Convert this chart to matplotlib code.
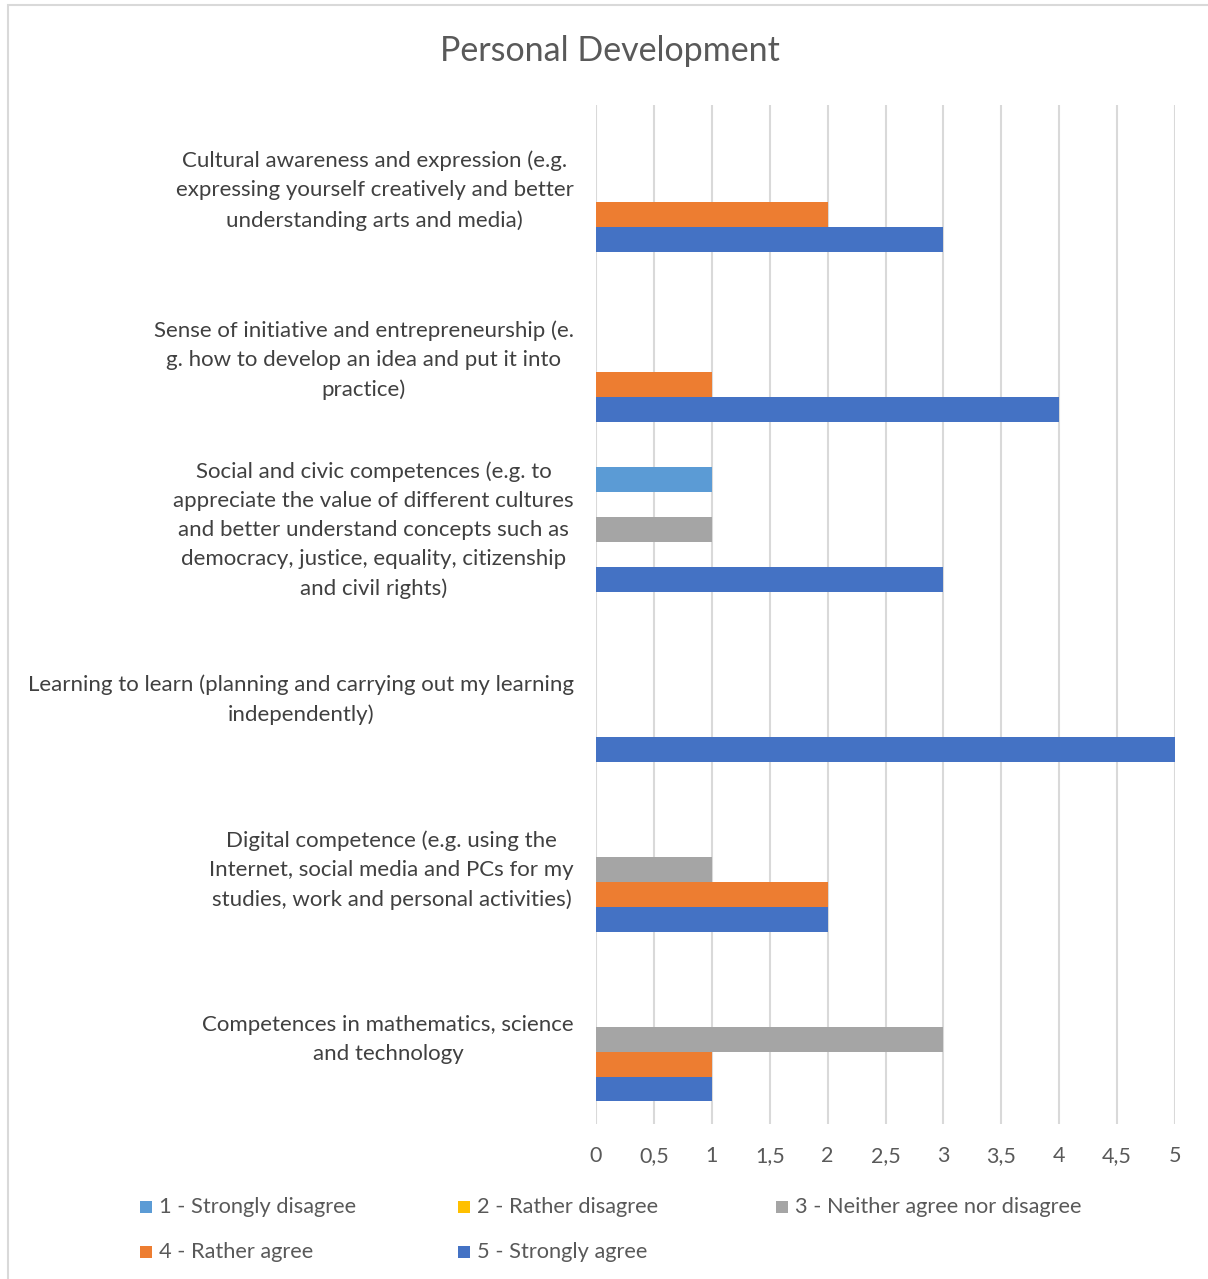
import numpy as np
import matplotlib.pyplot as plt
import matplotlib.transforms as mtransforms
from matplotlib.patches import Rectangle

plt.rcParams['font.family'] = ['Lato', 'DejaVu Sans']

# categories bottom -> top
categories = [
    "Competences in mathematics, science\nand technology",
    "Digital competence (e.g. using the\nInternet, social media and PCs for my\nstudies, work and personal activities)",
    "Learning to learn (planning and carrying out my learning\nindependently)",
    "Social and civic competences (e.g. to\nappreciate the value of different cultures\nand better understand concepts such as\ndemocracy, justice, equality, citizenship\nand civil rights)",
    "Sense of initiative and entrepreneurship (e.\ng. how to develop an idea and put it into\npractice)",
    "Cultural awareness and expression (e.g.\nexpressing yourself creatively and better\nunderstanding arts and media)",
]
series_names = ["1 - Strongly disagree", "2 - Rather disagree",
                "3 - Neither agree nor disagree", "4 - Rather agree",
                "5 - Strongly agree"]
s1 = [0, 0, 0, 1, 0, 0]
s2 = [0, 0, 0, 0, 0, 0]
s3 = [3, 1, 0, 1, 0, 0]
s4 = [1, 2, 0, 0, 1, 2]
s5 = [1, 2, 5, 3, 4, 3]
values = [s1, s2, s3, s4, s5]
colors = ["#5B9BD5", "#FFC000", "#A5A5A5", "#ED7D31", "#4472C4"]
xticks = np.arange(0, 5.01, 0.5)
xticklabels = ["0", "0,5", "1", "1,5", "2", "2,5", "3", "3,5", "4", "4,5", "5"]

W, H = 1208, 1279
fig = plt.figure(figsize=(W/100, H/100), dpi=100)
ax = fig.add_axes([596/W, 1 - 1124/H, (1175-596)/W, (1124-105)/H])

y = np.arange(len(categories))
h = 0.147
for k, vals in enumerate(values):
    ax.barh(y + (2 - k) * h, vals, height=h, color=colors[k], label=series_names[k], zorder=3)

ax.set_xlim(0, 5)
ax.set_ylim(-0.5, len(categories) - 0.5)
ax.set_xticks(xticks)
ax.set_xticklabels(xticklabels, fontsize=15.5, color="#595959")
ax.set_yticks(y)
ax.set_yticklabels(categories, fontsize=16, color="#404040", multialignment="center", linespacing=1.57)
ax.tick_params(axis="both", length=0)
ax.tick_params(axis="x", pad=16)
ax.tick_params(axis="y", pad=16)
# nudge category labels up a little
shift = mtransforms.ScaledTranslation(0, 6/100, fig.dpi_scale_trans)
for lab in ax.get_yticklabels():
    lab.set_transform(lab.get_transform() + shift)
ax.grid(axis="x", color="#D9D9D9", linewidth=1.5, zorder=0)
for s in ax.spines.values():
    s.set_visible(False)

fig.text(610/W, 1 - 51/H, "Personal Development", ha="center", va="center",
         fontsize=24.5, color="#595959")

# legend, laid out like Excel: fixed column slots, row by row
leg_x = [140, 458, 776]
leg_y = [1207, 1252]
for i, name in enumerate(series_names):
    cx = leg_x[i % 3]
    cy = leg_y[i // 3]
    fig.patches.append(Rectangle((cx/W, 1 - (cy + 6)/H), 12/W, 12/H, transform=fig.transFigure,
                                 facecolor=colors[i], edgecolor="none"))
    fig.text((cx + 19)/W, 1 - cy/H, name, ha="left", va="center", fontsize=15.7, color="#595959")

# chart area border
fig.patches.append(Rectangle((8/W, -0.01), 1.02, 1 - 5/H + 0.01, transform=fig.transFigure,
                             fill=False, edgecolor="#D9D9D9", linewidth=1.5))

plt.savefig("out.png", dpi=100)
